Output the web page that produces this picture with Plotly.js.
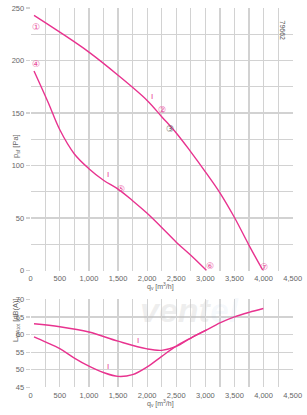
<!DOCTYPE html>
<html><head><meta charset="utf-8">
<script src="https://cdn.plot.ly/plotly-3.0.1.min.js"></script>
<style>body{margin:0;padding:0;background:#fff}#c{width:307px;height:415px}</style>
</head><body><div id="c"></div>
<script>
// Pressure curves (top)
const qUpper = [57, 500, 1000, 1500, 2000, 2250, 2500, 2750, 3000, 3250, 3500, 3750, 3990];
const pUpper = [243, 227, 208, 186, 162, 146.5, 131, 113, 94, 74, 50.5, 24, 0];
const qLower = [57, 300, 500, 750, 1000, 1250, 1500, 1750, 2000, 2250, 2500, 2750, 3020];
const pLower = [190, 160, 134, 111, 97, 86, 77.5, 66.5, 54.5, 41, 27, 14.5, 0];
// Sound power curves (bottom)
const qSoundU = [57, 500, 1000, 1500, 2000, 2250, 2500, 2750, 3000, 3250, 3500, 3750, 3996];
const lSoundU = [63.05, 62.2, 60.7, 58.1, 55.9, 55.5, 56.6, 59, 61.1, 63.3, 65, 66.3, 67.4];
const qSoundL = [57, 250, 500, 750, 1000, 1250, 1500, 1750, 2000, 2250, 2500, 2750, 3020];
const lSoundL = [59.3, 57.9, 56, 53.3, 51, 49.2, 48.1, 48.6, 50.8, 53.8, 56.7, 59, 61.3];
const xTicks = [0, 500, 1000, 1500, 2000, 2500, 3000, 3500, 4000, 4500];
const xTickText = ['0','500','1,000','1,500','2,000','2,500','3,000','3,500','4,000','4,500'];
// Operating point labels
const ptLabels = ['①','④','②','③','⑤','⑥','⑦'];
const ptQ = [95, 95, 2250, 2400, 1550, 3075, 4015];
const ptP = [232, 197, 153, 135, 78, 4, 3];
const ptColors = ['#e94b9b','#e94b9b','#e94b9b','#666','#e94b9b','#e94b9b','#e94b9b'];

const pink = '#e8338f';
const grid = '#d2d2d2';
const tf = {family:'Liberation Sans, Arial, sans-serif', size:7.5, color:'#666'};
const titleFont = {family:'Liberation Sans, Arial, sans-serif', size:7, color:'#666'};

const traces = [
  {x:qUpper, y:pUpper, xaxis:'x', yaxis:'y', mode:'lines', line:{color:pink, width:1.4, shape:'spline', smoothing:1}, hoverinfo:'none'},
  {x:qLower, y:pLower, xaxis:'x', yaxis:'y', mode:'lines', line:{color:pink, width:1.4, shape:'spline', smoothing:1}, hoverinfo:'none'},
  {x:qSoundU, y:lSoundU, xaxis:'x2', yaxis:'y2', mode:'lines', line:{color:pink, width:1.4, shape:'spline', smoothing:1}, hoverinfo:'none'},
  {x:qSoundL, y:lSoundL, xaxis:'x2', yaxis:'y2', mode:'lines', line:{color:pink, width:1.4, shape:'spline', smoothing:1}, hoverinfo:'none'}
];

const axX = {range:[0,4500], tickvals:xTicks, ticktext:xTickText, showgrid:true, gridcolor:grid, gridwidth:1.2,
  minor:{dtick:250, showgrid:true, gridcolor:grid, gridwidth:1.2, tick0:0}, zeroline:false, showline:false,
  tickfont:tf, ticks:'', ticklabelstandoff:2, fixedrange:true, domain:[0.1, 0.9534]};

const annotations = [];
for (let i=0;i<ptLabels.length;i++){
  annotations.push({x:ptQ[i], y:ptP[i], xref:'x', yref:'y', text:ptLabels[i], showarrow:false,
    font:{family:'DejaVu Sans', size:9, color:ptColors[i]}});
}
annotations.push(
  {x:2080, y:166, xref:'x', yref:'y', text:'I', showarrow:false, font:{family:'Liberation Sans', size:8, color:pink}},
  {x:1320, y:91, xref:'x', yref:'y', text:'I', showarrow:false, font:{family:'Liberation Sans', size:8, color:pink}},
  {x:1850, y:58.4, xref:'x2', yref:'y2', text:'I', showarrow:false, font:{family:'Liberation Sans', size:8, color:pink}},
  {x:1335, y:51, xref:'x2', yref:'y2', text:'I', showarrow:false, font:{family:'Liberation Sans', size:8, color:pink}},
  {x:160/307, y:1-292.5/415, xref:'paper', yref:'paper', text:'q<sub>v</sub> [m<sup>3</sup>/h]', showarrow:false, font:titleFont},
  {x:160/307, y:1-410/415, xref:'paper', yref:'paper', text:'q<sub>v</sub> [m<sup>3</sup>/h]', showarrow:false, font:titleFont},
  {x:9/307, y:1-146/415, xref:'paper', yref:'paper', text:'p<sub>sf</sub> [Pa]', textangle:-90, showarrow:false, font:tf},
  {x:9/307, y:1-344/415, xref:'paper', yref:'paper', text:'L<sub>WAtot</sub> [dB(A)]', textangle:-90, showarrow:false, font:tf},
  {x:288/307, y:1-18/415, xref:'paper', yref:'paper', text:'79662', textangle:90, showarrow:false, font:{family:'Liberation Sans', size:7, color:'#555'}},
  {x:190/307, y:1-331/415, xref:'paper', yref:'paper', text:'<i><b>vent<span style="color:rgba(120,170,220,0.25)">el</span></b></i>', showarrow:false, font:{family:'Liberation Sans', size:34, color:'rgba(190,190,190,0.25)'}}
);

const layout = {
  width:307, height:415, margin:{l:0,r:0,t:0,b:0}, paper_bgcolor:'#fff', plot_bgcolor:'#fff', showlegend:false,
  xaxis: Object.assign({}, axX, {anchor:'y'}),
  xaxis2: Object.assign({}, axX, {anchor:'y2'}),
  yaxis: {range:[0,250], dtick:50, domain:[(415-270.5)/415, (415-8)/415], showgrid:true, gridcolor:grid, gridwidth:1.2,
    minor:{dtick:25, showgrid:true, gridcolor:grid, gridwidth:1.2}, zeroline:false, tickfont:tf,
    ticks:'outside', ticklen:4, tickcolor:grid, tickwidth:1.2, anchor:'x', fixedrange:true},
  yaxis2: {range:[45,70], dtick:5, domain:[(415-387.3)/415, (415-299.3)/415], showgrid:true, gridcolor:grid, gridwidth:1.2,
    zeroline:false, tickfont:tf, ticks:'outside', ticklen:4, tickcolor:grid, tickwidth:1.2, anchor:'x2', fixedrange:true},
  annotations: annotations
};
Plotly.newPlot('c', traces, layout, {displayModeBar:false, staticPlot:true});
</script></body></html>
